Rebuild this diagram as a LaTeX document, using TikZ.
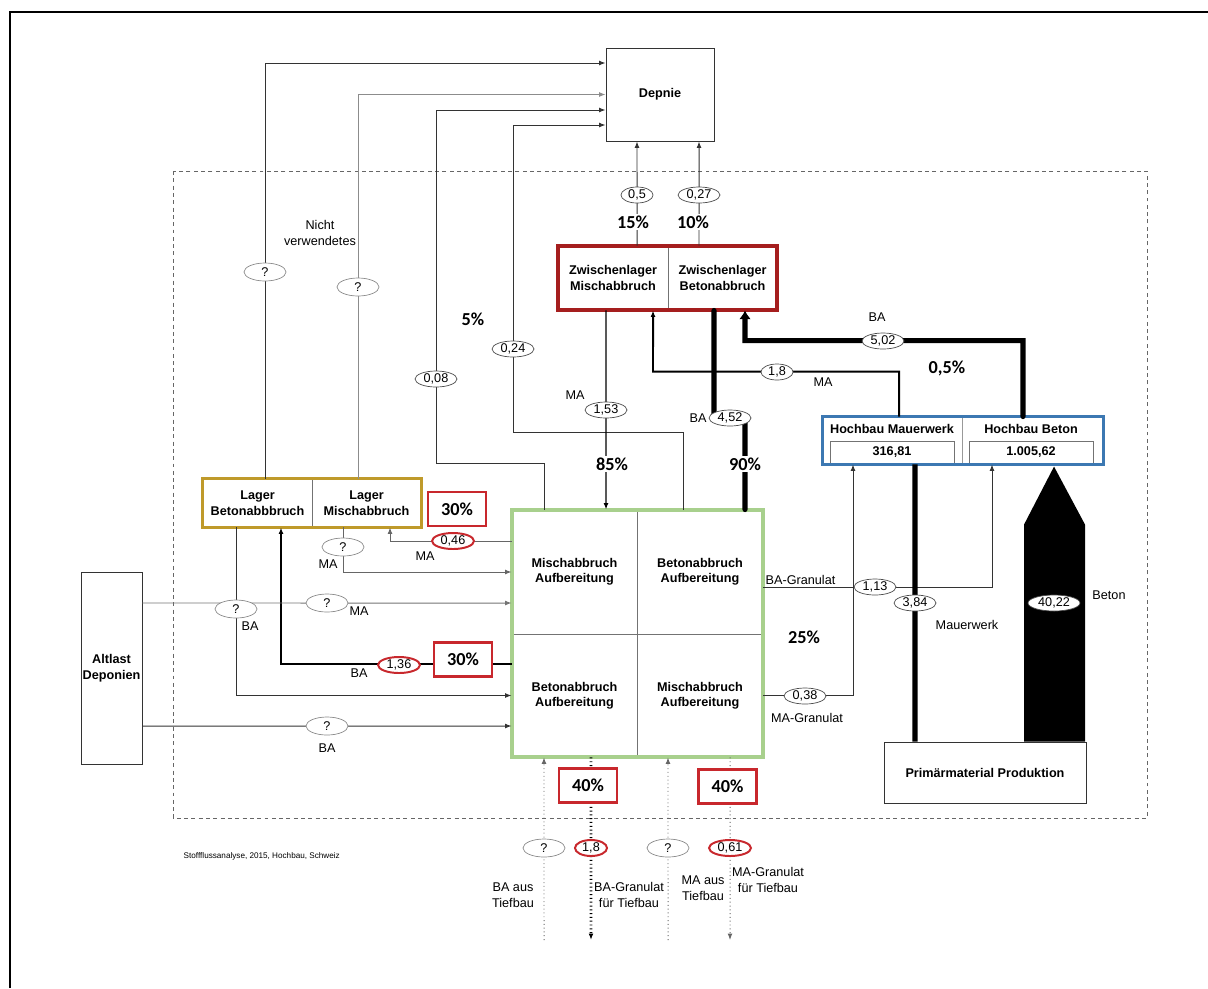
\documentclass[tikz,border=0pt]{standalone}
\usepackage{fontspec}
\setmainfont{Liberation Sans}
\newfontfamily\pctfont{Carlito}
\usetikzlibrary{arrows.meta,shapes.geometric}
\definecolor{zwred}{HTML}{A51E1E}
\definecolor{pctred}{HTML}{C8282D}
\definecolor{lagergold}{HTML}{BF9A2A}
\definecolor{hbblue}{HTML}{3C78B2}
\definecolor{aufgreen}{HTML}{A8D08D}

\begin{document}
\begin{tikzpicture}[x=0.025cm, y=-0.025cm,
    every node/.style={font=\fontsize{9}{11}\selectfont, align=center},
    box/.style={draw=black!55, line width=0.6pt, inner sep=0pt, font=\fontsize{9}{11}\selectfont\bfseries},
    pct/.style={fill=white, inner sep=1pt, font=\pctfont\fontsize{13}{15}\selectfont\bfseries},
    pctbox/.style={pct, draw=pctred, line width=1.5pt, minimum width=1.45cm, minimum height=0.85cm},
    val/.style={ellipse, draw=black!70, fill=white, line width=0.5pt, inner xsep=1.8pt, inner ysep=0pt, minimum height=0.4cm},
    redval/.style={val, draw=pctred, line width=1.4pt},
    qval/.style={ellipse, draw=black!45, fill=white, line width=0.5pt, inner sep=0pt, minimum width=1.05cm, minimum height=0.45cm},
    lbl/.style={inner sep=1pt},
    flow/.style={draw=black!80, line width=0.7pt},
    bigflow/.style={draw=black, line width=3.6pt, line cap=round},
    tief/.style={draw=black!60, line width=0.7pt, dotted},
    arr/.style={-{Latex[length=1.6mm,width=1.2mm]}},
    arrthick/.style={-{Latex[length=2.2mm,width=3mm]}}]
  \useasboundingbox (0,0) rectangle (1208,988);
  \draw[line width=1.5pt] (10,988) -- (10,12) -- (1208,12);
  \draw[black!60, dash pattern=on 2.8pt off 2.4pt, line width=0.7pt] (173,171) rectangle (1147,818);

  % Knoten
  \node[box, draw=black!80, minimum width=2.7cm, minimum height=2.325cm] (depnie) at (660,94.5) {Depnie};
  \node[box, minimum width=2.75cm, minimum height=1.6cm] (zwmisch) at (613,278) {Zwischenlager\\Mischabbruch};
  \node[box, minimum width=2.725cm, minimum height=1.6cm] (zwbeton) at (722.5,278) {Zwischenlager\\Betonabbruch};
  \draw[zwred, line width=2.8pt] (zwmisch.north west) rectangle (zwbeton.south east);

  \node[box, minimum width=2.725cm, minimum height=1.2cm] (lagerbeton) at (257.5,503) {Lager\\Betonabbbruch};
  \node[box, minimum width=2.725cm, minimum height=1.2cm] (lagermisch) at (366.5,503) {Lager\\Mischabbruch};
  \draw[lagergold, line width=2.5pt] (lagerbeton.north west) rectangle (lagermisch.south east);

  \node[box, minimum width=3.125cm, minimum height=3.1cm] (aufmischA) at (574.5,572) {Mischabbruch\\Aufbereitung};
  \node[box, minimum width=3.15cm, minimum height=3.1cm] (aufbetonA) at (700,572) {Betonabbruch\\Aufbereitung};
  \node[box, minimum width=3.125cm, minimum height=3.075cm] (aufbetonB) at (574.5,695.5) {Betonabbruch\\Aufbereitung};
  \node[box, minimum width=3.15cm, minimum height=3.075cm] (aufmischB) at (700,695.5) {Mischabbruch\\Aufbereitung};
  \draw[aufgreen, line width=2.8pt] (aufmischA.north west) rectangle (aufmischB.south east);

  \node[box, draw=black!80, minimum width=1.525cm, minimum height=4.8cm] (altlast) at (111.5,668) {Altlast\\Deponien};

  \node[box, draw=black!40, minimum width=3.475cm, minimum height=1.175cm] (hbmauer) at (892.5,440.5) {};
  \node[box, draw=black!40, minimum width=3.525cm, minimum height=1.175cm] (hbbeton) at (1032.5,440.5) {};
  \node[box, draw=none] (hbmauertitel) at (892,429) {Hochbau Mauerwerk};
  \node[box, draw=none] (hbbetontitel) at (1031,429) {Hochbau Beton};
  \node[box, minimum width=3.1cm, minimum height=0.575cm] (mauerval) at (892,452.5) {316,81};
  \node[box, minimum width=3.1cm, minimum height=0.575cm] (betonval) at (1031,452.5) {1.005,62};
  \draw[hbblue, line width=2.2pt] (hbmauer.north west) rectangle (hbbeton.south east);

  \node[box, draw=black!80, minimum width=5.05cm, minimum height=1.525cm] (primaer) at (985,772.5) {Primärmaterial Produktion};

  % Fluesse zur Deponie
  \draw[flow, arr] ([xshift=1.875mm]lagerbeton.north) |- ([yshift=7.875mm]depnie.west);
  \draw[flow, draw=black!45, arr] ([xshift=-2.125mm]lagermisch.north) |- (depnie.west);
  \draw[flow, arr] ([xshift=-7.625mm]aufmischA.north) |- ++(-108,-46) |- ([yshift=-3.875mm]depnie.west);
  \draw[flow, arr] ([xshift=-4.25mm]aufbetonA.north) |- ++(-170,-77) |- ([yshift=-7.625mm]depnie.west);
  \draw[flow, arr] ([xshift=6mm]zwmisch.north) -- ([xshift=-5.75mm]depnie.south);
  \draw[flow, arr] ([xshift=-5.875mm]zwbeton.north) -- ([xshift=9.75mm]depnie.south);

  % Zwischenlager und Hochbau
  \draw[flow, draw=black, line width=0.9pt, arr] ([xshift=-1.75mm]zwmisch.south) -- ([xshift=7.875mm]aufmischA.north);
  \draw[bigflow] ([xshift=-2.125mm]zwbeton.south) |- ++(31,108) -- ([xshift=11.25mm]aufbetonA.north);
  \draw[flow, draw=black, line width=1.4pt, arr] ([xshift=1.625mm]hbmauer.north) |- ++(-246,-45) -- ([xshift=10mm]zwmisch.south);
  \draw[bigflow, arrthick] ([xshift=-2.375mm]hbbeton.north) |- ++(-278,-76) -- ([xshift=5.625mm]zwbeton.south);
  \draw[flow, arr] ([yshift=-3.75mm]aufbetonA.east) -| ([xshift=-10.125mm]hbbeton.south);
  \draw[flow, arr] (aufmischB.east) -| ([xshift=-9.875mm]hbmauer.south);
  \draw[bigflow, line cap=butt] ([xshift=-17.5mm]primaer.north) -- ([xshift=5.625mm]hbmauer.south);
  \fill ([xshift=9.75mm]primaer.north) -- ++(0,-217) -- ++(30,-58) -- ++(31,58) -- ++(0,217) -- cycle;

  % Lager und Altlast
  \draw[flow, arr] ([xshift=-5.375mm]lagerbeton.south) |- (aufbetonB.west);
  \draw[flow, draw=black!60, arr] ([xshift=-5.875mm]lagermisch.south) |- (aufmischA.west);
  \draw[flow, draw=black!60, arr] ([yshift=7.75mm]aufmischA.west) -| ([xshift=5.875mm]lagermisch.south);
  \draw[flow, draw=black, line width=1.4pt, arr] ([yshift=7.875mm]aufbetonB.west) -| ([xshift=5.875mm]lagerbeton.south);
  \draw[flow, draw=black!55, arr] ([yshift=16.25mm]altlast.east) -- ([yshift=-7.75mm]aufmischA.west);
  \draw[flow, arr] ([yshift=-14.5mm]altlast.east) -- ([yshift=-7.625mm]aufbetonB.west);

  % Tiefbau
  \coordinate (baaus) at (544,940);
  \coordinate (bagran) at (591,940);
  \coordinate (maaus) at (668,940);
  \coordinate (magran) at (730,940);
  \draw[tief, arr] (baaus) -- ([xshift=-7.625mm]aufbetonB.south);
  \draw[tief, draw=black, line width=1.8pt, arr] ([xshift=4.125mm]aufbetonB.south) -- (bagran);
  \draw[tief, arr] (maaus) -- ([xshift=-8mm]aufmischB.south);
  \draw[tief, arr] ([xshift=7.5mm]aufmischB.south) -- (magran);

  % Werte und Beschriftungen
  \node[qval] (q1) at (265,272) {?};
  \node[qval] (q2) at (358,287) {?};
  \node[lbl] (nicht) at (320,233) {Nicht\\verwendetes};
  \node[pct] (p5) at (473,319) {5\%};
  \node[val] (v008) at (436,379) {0,08};
  \node[val] (v024) at (513,349) {0,24};
  \node[val] (v05) at (637,195) {0,5};
  \node[val] (v027) at (699,195) {0,27};
  \node[pct] (p15) at (633,222) {15\%};
  \node[pct] (p10) at (693,222) {10\%};
  \node[lbl] (ma1) at (575,395) {MA};
  \node[val] (v153) at (606,410) {1,53};
  \node[pct] (p85) at (612,464) {85\%};
  \node[lbl] (ba1) at (698,418) {BA};
  \node[val] (v452) at (730,418) {4,52};
  \node[pct] (p90) at (745,464) {90\%};
  \node[val] (v18) at (777,372) {1,8};
  \node[lbl] (ma2) at (823,382) {MA};
  \node[lbl] (ba2) at (877,317) {BA};
  \node[val] (v502) at (883,341) {5,02};
  \node[pct] (p05) at (947,368) {0,5\%};
  \node[val] (v113) at (875,587) {1,13};
  \node[lbl, anchor=west] (bagranlbl) at (764,580) {BA-Granulat};
  \node[pct] (p25) at (804,637) {25\%};
  \node[val] (v038) at (805,696) {0,38};
  \node[lbl] (magranlbl) at (807,718) {MA-Granulat};
  \node[val] (v384) at (915,603) {3,84};
  \node[lbl] (mauerlbl) at (967,625) {Mauerwerk};
  \node[val] (v4022) at (1054,603) {40,22};
  \node[lbl] (betonlbl) at (1109,595) {Beton};
  \node[pctbox] (p30a) at (457,509) {30\%};
  \node[redval] (v046) at (453,541) {0,46};
  \node[lbl] (ma3) at (425,556) {MA};
  \node[qval] (q3) at (343,547) {?};
  \node[lbl] (ma4) at (328,564) {MA};
  \node[qval] (q4) at (236,609) {?};
  \node[lbl] (ba3) at (250,626) {BA};
  \node[qval] (q5) at (327,603) {?};
  \node[lbl] (ma5) at (359,611) {MA};
  \node[redval] (v136) at (399,665) {1,36};
  \node[lbl] (ba4) at (359,673) {BA};
  \node[pctbox] (p30b) at (463,659.5) {30\%};
  \node[qval] (q6) at (327,726) {?};
  \node[lbl] (ba5) at (327,748) {BA};
  \node[pctbox] (p40a) at (588,785.5) {40\%};
  \node[pctbox] (p40b) at (727.5,786.5) {40\%};
  \node[qval] (q7) at (544,848) {?};
  \node[redval] (v18b) at (591,848) {1,8};
  \node[qval] (q8) at (668,848) {?};
  \node[redval] (v061) at (730,848) {0,61};
  \node[lbl] (baauslbl) at (513,895) {BA aus\\Tiefbau};
  \node[lbl] (bagranlbl2) at (629,895) {BA-Granulat\\für Tiefbau};
  \node[lbl] (maauslbl) at (703,888) {MA aus\\Tiefbau};
  \node[lbl] (magranlbl2) at (768,880) {MA-Granulat\\für Tiefbau};
  \node[lbl, anchor=west, font=\fontsize{5.8}{7}\selectfont] (quelle) at (182,856) {Stoffflussanalyse, 2015, Hochbau, Schweiz};
\end{tikzpicture}
\end{document}
